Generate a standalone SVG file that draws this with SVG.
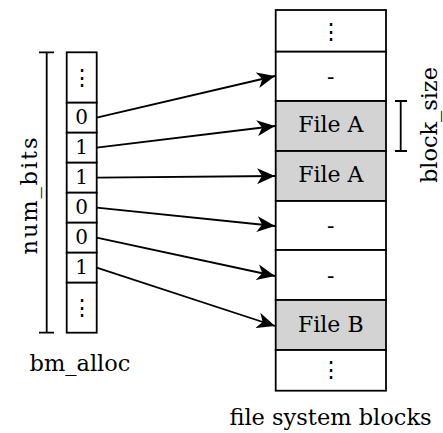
<svg xmlns="http://www.w3.org/2000/svg" width="443" height="433" viewBox="0 0 443 433">
<style>
text{font-family:"DejaVu Serif","Liberation Serif",serif;font-size:22px;fill:#000;text-anchor:middle}
.d{font-size:20px}
.e{font-size:22px}
.lab{font-size:22.5px}
.cell{fill:#fff;stroke:#000;stroke-width:1.8}
.file{fill:#d3d3d3;stroke:#000;stroke-width:1.8}
.ln{fill:none;stroke:#000;stroke-width:1.8}
.arr{fill:none;stroke:#000;stroke-width:1.8;marker-end:url(#ah)}
</style>
<defs>
<marker id="ah" markerWidth="20" markerHeight="16" refX="18" refY="8" orient="auto" markerUnits="userSpaceOnUse">
<path d="M0,0 L18,8 L0,16 L5,8 Z" fill="#000"/>
</marker>
</defs>
<g id="bitmap">
<rect class="cell" x="66.7" y="52.3" width="30" height="50.4"/>
<text class="e" x="81.7" y="85">⋮</text>
<rect class="cell" x="66.7" y="102.7" width="30" height="30"/>
<text class="d" x="81.7" y="124">0</text>
<rect class="cell" x="66.7" y="132.7" width="30" height="30"/>
<text class="d" x="81.7" y="154">1</text>
<rect class="cell" x="66.7" y="162.7" width="30" height="30"/>
<text class="d" x="81.7" y="184">1</text>
<rect class="cell" x="66.7" y="192.7" width="30" height="30"/>
<text class="d" x="81.7" y="214">0</text>
<rect class="cell" x="66.7" y="222.7" width="30" height="30"/>
<text class="d" x="81.7" y="244">0</text>
<rect class="cell" x="66.7" y="252.7" width="30" height="30"/>
<text class="d" x="81.7" y="274">1</text>
<rect class="cell" x="66.7" y="282.7" width="30" height="50"/>
<text class="e" x="81.7" y="315">⋮</text>
</g>
<g id="num_bits">
<path class="ln" d="M46.7,52.3 V332.7 M39,52.3 H54 M39,332.7 H54"/>
<text class="lab" transform="translate(36.5,196) rotate(-90)" textLength="117">num_bits</text>
</g>
<g id="bm_alloc"><text class="lab" x="80" y="370.5">bm_alloc</text></g>
<g id="blocks">
<rect class="cell" x="275.7" y="10" width="110.3" height="41.7"/>
<text class="e" x="330.8" y="38.5">⋮</text>
<rect class="cell" x="275.7" y="51.7" width="110.3" height="49.3"/>
<text x="330.8" y="84">-</text>
<rect class="file" x="275.7" y="101" width="110.3" height="50"/>
<text x="330.8" y="132">File A</text>
<rect class="file" x="275.7" y="151" width="110.3" height="50"/>
<text x="330.8" y="182">File A</text>
<rect class="cell" x="275.7" y="201" width="110.3" height="49"/>
<text x="330.8" y="233">-</text>
<rect class="cell" x="275.7" y="250" width="110.3" height="50"/>
<text x="330.8" y="283">-</text>
<rect class="file" x="275.7" y="300" width="110.3" height="50"/>
<text x="330.8" y="332">File B</text>
<rect class="cell" x="275.7" y="350" width="110.3" height="40.7"/>
<text class="e" x="330.8" y="377">⋮</text>
</g>
<g id="block_size">
<path class="ln" d="M400.7,101 V151 M395,101 H407 M395,151 H407"/>
<text class="lab" transform="translate(437,125) rotate(-90)" textLength="116">block_size</text>
</g>
<g id="fs_label"><text class="lab" x="330.5" y="425">file system blocks</text></g>
<g id="connectors">
<line class="arr" x1="96.7" y1="117.7" x2="275" y2="76"/>
<line class="arr" x1="96.7" y1="147.7" x2="275" y2="126"/>
<line class="arr" x1="96.7" y1="177.7" x2="275" y2="176"/>
<line class="arr" x1="96.7" y1="207.7" x2="275" y2="226"/>
<line class="arr" x1="96.7" y1="237.7" x2="275" y2="276"/>
<line class="arr" x1="96.7" y1="267.7" x2="275" y2="326"/>
</g>
</svg>
